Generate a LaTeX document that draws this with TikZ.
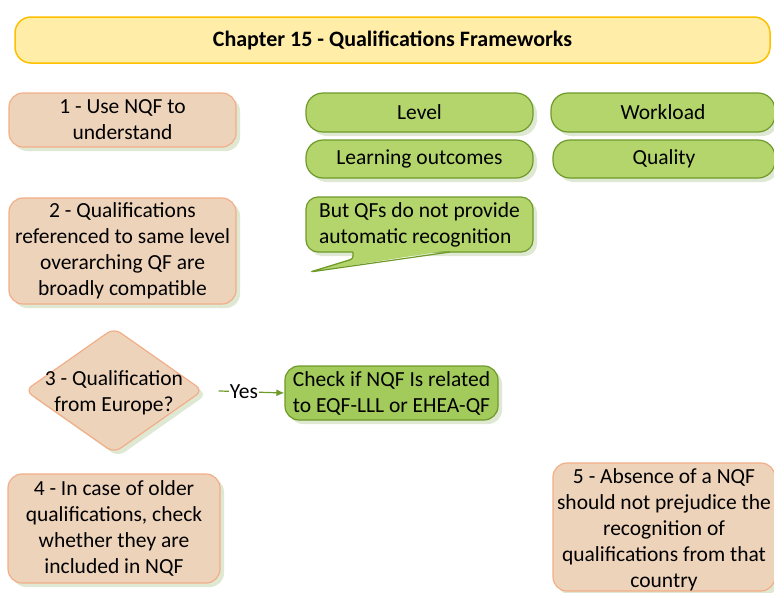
\documentclass[tikz,border=0pt]{standalone}
\usepackage{fontspec}
\setmainfont{Carlito}
\usetikzlibrary{shapes,arrows,positioning,shadows,arrows.meta}

\definecolor{peachfill}{HTML}{EED3BB}
\definecolor{peachline}{HTML}{F2AE88}
\definecolor{leaffill}{HTML}{B3D56C}
\definecolor{leafline}{HTML}{6E9A2A}
\definecolor{checkfill}{HTML}{A2CB5C}
\definecolor{titlefill}{HTML}{FFEDA8}
\definecolor{titleline}{HTML}{FFC000}
\definecolor{shade}{HTML}{DFE8D2}

\tikzset{
    boxshadow/.style={drop shadow={shadow xshift=4pt, shadow yshift=-4pt, fill=shade, opacity=1}},
    stepbox/.style={draw=peachline, fill=peachfill, line width=1.2pt, rounded corners=14pt,
        boxshadow, align=center, inner sep=0pt},
    topicbox/.style={draw=leafline, fill=leaffill, line width=1.2pt, rounded corners=17pt,
        boxshadow, align=center, inner sep=0pt},
    yesline/.style={draw=leafline, line width=1.2pt, -{Latex[length=8pt,width=7pt]}}
}

\begin{document}
\begin{tikzpicture}[x=1pt, y=-1pt, every node/.style={font=\fontsize{21.5}{26}\selectfont}]
    \useasboundingbox (0,0) rectangle (774,592);

    % Title
    \node[draw=titleline, fill=titlefill, line width=1.5pt, rounded corners=16pt,
        minimum width=755pt, minimum height=46pt, font=\fontsize{22}{26}\selectfont\bfseries]
        (title) at (392.5,40) {Chapter 15 - Qualifications Frameworks};

    % Left column steps
    \node[stepbox, minimum width=227pt, minimum height=54pt] (useNQF) at (122.5,120)
        {1 - Use NQF to\\understand};
    \node[stepbox, minimum width=227pt, minimum height=106pt] (sameLevel) at (122.5,251)
        {2 - Qualifications\\referenced to same level\\overarching QF are\\broadly compatible};
    \node[stepbox, shape=diamond, aspect=1.42, rounded corners=8pt,
        minimum width=178pt, minimum height=125pt,
        label={[align=center, yshift=-2pt]center:3 - Qualification\\from Europe?}] (europe) at (114,390.5) {};
    \node[stepbox, minimum width=212pt, minimum height=109pt] (older) at (114,528.5)
        {4 - In case of older\\qualifications, check\\whether they are\\included in NQF};
    \node[stepbox, minimum width=222pt, minimum height=128pt,
        label={[align=center, yshift=-3pt]center:5 - Absence of a NQF\\should not prejudice the\\recognition of\\qualifications from that\\country}]
        (absence) at (664,527) {};

    % Green topics
    \node[topicbox, minimum width=227pt, minimum height=39pt] (level) at (419.5,112.5) {Level};
    \node[topicbox, minimum width=224pt, minimum height=39pt] (workload) at (663,112.5) {Workload};
    \node[topicbox, minimum width=227pt, minimum height=38pt] (outcomes) at (419.5,159) {Learning outcomes};
    \node[topicbox, minimum width=222pt, minimum height=38pt] (quality) at (664,159) {Quality};

    % Callout
    \node[topicbox, rounded corners=12pt, minimum width=227pt, minimum height=55pt,
        align=left] (callout) at (419.5,224.5)
        {But QFs do not provide\\automatic recognition};
    \fill[leaffill] (353,250) -- (353,258) -- (310,272) -- (450,250) -- cycle;
    \draw[leafline, line width=1.2pt, line join=round, rounded corners=3pt]
        (353,252) -- (353,259) -- (310,272) -- (450,252);

    % Decision branch
    \node[topicbox, fill=checkfill, rounded corners=14pt, minimum width=213pt, minimum height=54pt]
        (check) at (391.5,393) {Check if NQF Is related\\to EQF-LLL or EHEA-QF};
    \draw[yesline, shorten <=15pt] (europe.east) -- node[fill=white, inner sep=1pt] {Yes} (check.west);
\end{tikzpicture}
\end{document}
